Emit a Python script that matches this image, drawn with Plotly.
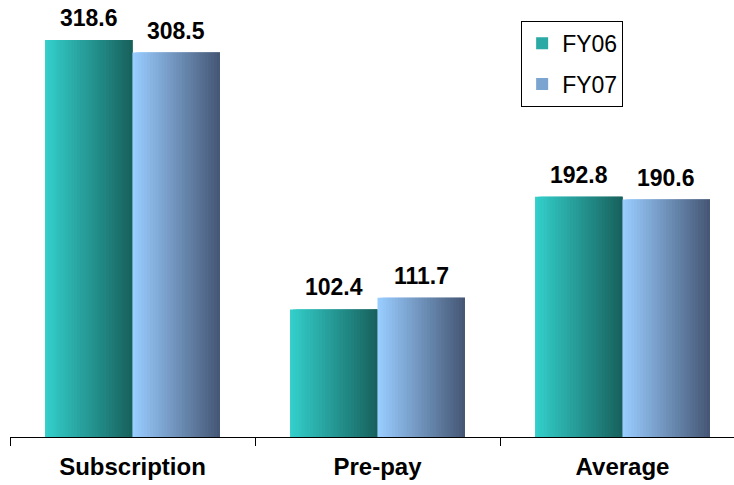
import plotly.graph_objects as go

categories = ["Subscription", "Pre-pay", "Average"]
fy06 = [318.6, 102.4, 192.8]
fy07 = [308.5, 111.7, 190.6]
series_names = ["FY06", "FY07"]

BAR_W = 0.357
N = 30
FONT = "Liberation Sans, Arial"

def lerp(c1, c2, t):
    return "rgb(%d,%d,%d)" % tuple(round(a + (b - a) * t) for a, b in zip(c1, c2))

grads = {
    "FY06": ((51, 206, 202), (24, 98, 94)),
    "FY07": ((153, 204, 255), (70, 88, 118)),
}

fig = go.Figure()
step = BAR_W / N
annotations = []
for si, (name, vals) in enumerate(zip(series_names, [fy06, fy07])):
    base = -BAR_W if si == 0 else 0.0
    c1, c2 = grads[name]
    for i in range(N):
        t = i / (N - 1)
        w = min(3 * step, BAR_W - i * step)
        fig.add_trace(go.Bar(
            x=categories, y=vals,
            width=w, offset=base + i * step,
            marker=dict(color=lerp(c1, c2, t), line=dict(width=0)),
            name=name, legendgroup=name,
            showlegend=(i == N // 3), hoverinfo="skip",
        ))
    for ci, v in enumerate(vals):
        annotations.append(dict(
            x=ci + base + BAR_W / 2, y=v, xref="x", yref="y",
            text=f"<b>{v:.1f}</b>", showarrow=False,
            yanchor="bottom", yshift=7,
            font=dict(family=FONT, size=23, color="black"),
        ))

fig.update_layout(
    width=734, height=485,
    margin=dict(l=10, r=0, t=10, b=48),
    paper_bgcolor="white", plot_bgcolor="white",
    barmode="overlay",
    font=dict(family=FONT, color="black"),
    annotations=annotations,
    xaxis=dict(
        type="category", range=[-0.5, 2.455],
        showline=True, linecolor="black", linewidth=1,
        ticks="outside", tickson="boundaries", ticklen=8, tickcolor="black",
        tickfont=dict(size=24, family=FONT, weight="bold"),
        ticklabelstandoff=8,
        showgrid=False,
    ),
    yaxis=dict(range=[0, 342.7], visible=False, showgrid=False),
    legend=dict(
        x=0.706, y=0.975, xanchor="left", yanchor="top",
        bordercolor="black", borderwidth=1, bgcolor="white",
        font=dict(size=23, family=FONT),
        traceorder="grouped", tracegroupgap=8,
    ),
)

fig.write_html("out.html")
